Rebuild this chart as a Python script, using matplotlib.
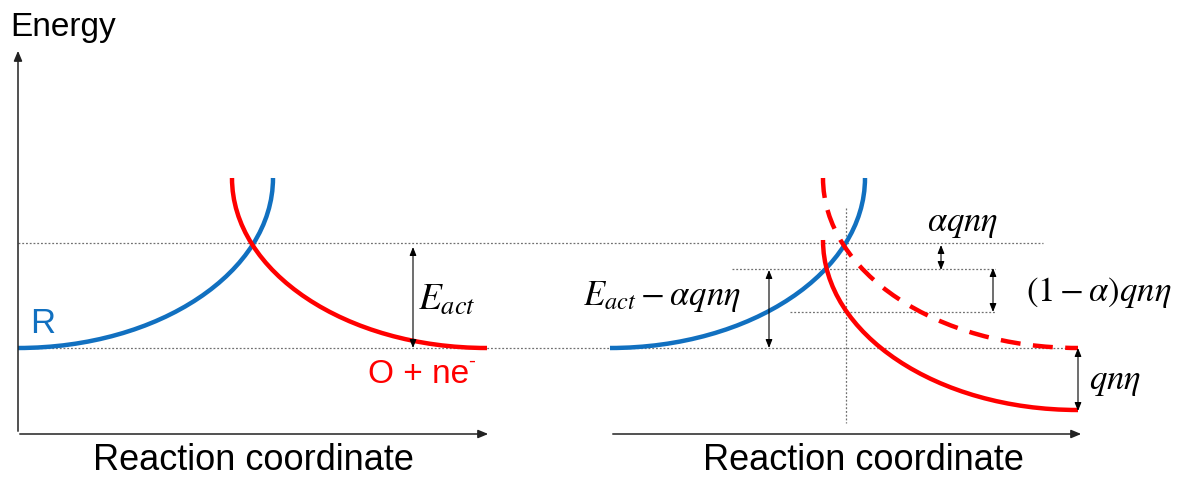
import matplotlib
matplotlib.use("Agg")
from matplotlib import pyplot as plt
from matplotlib.path import Path
from matplotlib.patches import PathPatch

plt.rcParams['font.family'] = ['Liberation Sans', 'DejaVu Sans']
plt.rcParams['mathtext.fontset'] = 'stix'

BLUE = '#1170C0'
RED = '#FF0000'
GRID = '#707070'

# curve control points (cubic bezier, quarter-ellipse shape), pixel units
blue_left_x = [18, 159, 273, 273]
blue_left_y = [348, 348, 272, 178]
red_left_x = [232, 232, 346, 487]
red_left_y = [178, 272, 348, 348]
blue_right_x = [610, 751, 865, 865]
blue_right_y = [348, 348, 272, 178]
red_dash_x = [823, 823, 937, 1078]
red_dash_y = [178, 272, 348, 348]
red_shift_x = [823, 823, 937, 1078]
red_shift_y = [240, 334, 410, 410]

# dotted guide lines: (y, x start, x end)
hlines_y = [243, 348, 269, 312]
hlines_x0 = [18, 18, 732, 790]
hlines_x1 = [1043, 1078, 995, 995]
vline_x = 846
vline_y = (208, 423)

# double arrows: (x, y top, y bottom)
arr_x = [413, 769, 941, 993, 1078]
arr_y0 = [247, 270, 245, 268, 348]
arr_y1 = [348, 348, 270, 312, 411]

fig = plt.figure(figsize=(11.82, 4.82), dpi=100)
ax = fig.add_axes([0, 0, 1, 1])
ax.set_xlim(0, 1182)
ax.set_ylim(482, 0)
ax.axis('off')


def bez(xs, ys, color, ls='-'):
    p = Path(list(zip(xs, ys)), [Path.MOVETO, Path.CURVE4, Path.CURVE4, Path.CURVE4])
    ax.add_patch(PathPatch(p, fill=False, edgecolor=color, lw=3.2, ls=ls,
                           capstyle='butt', zorder=3))


for y, x0, x1 in zip(hlines_y, hlines_x0, hlines_x1):
    ax.plot([x0, x1], [y, y], ls=(0, (1.5, 1.5)), color=GRID, lw=0.9, zorder=1)
ax.plot([vline_x, vline_x], vline_y, ls=(0, (1.5, 1.5)), color=GRID, lw=0.9, zorder=1)

bez(blue_left_x, blue_left_y, BLUE)
bez(red_left_x, red_left_y, RED)
bez(blue_right_x, blue_right_y, BLUE)
bez(red_dash_x, red_dash_y, RED, ls=(0, (4.5, 2.8)))
bez(red_shift_x, red_shift_y, RED)

# axes arrows
ax_kw = dict(arrowstyle='-|>,head_length=0.6,head_width=0.25', color='#222222', lw=1.1)
ax.annotate('', xy=(18, 48), xytext=(18, 434), arrowprops=ax_kw)
ax.annotate('', xy=(491, 434), xytext=(17, 434), arrowprops=ax_kw)
ax.annotate('', xy=(1084, 434), xytext=(610, 434), arrowprops=ax_kw)

ar_kw = dict(arrowstyle='<|-|>,head_length=0.5,head_width=0.2', color='black', lw=0.8,
             shrinkA=0, shrinkB=0)
for x, y0, y1 in zip(arr_x, arr_y0, arr_y1):
    ax.annotate('', xy=(x, y0), xytext=(x, y1), arrowprops=ar_kw)

ax.text(10, 36, 'Energy', fontsize=24, va='baseline', ha='left')
ax.text(253, 460, 'Reaction coordinate', fontsize=26, ha='center', va='center')
ax.text(863, 460, 'Reaction coordinate', fontsize=26, ha='center', va='center')
ax.text(30, 333, 'R', fontsize=25, color=BLUE, va='baseline')
ax.text(368, 383, 'O + ne', fontsize=24, color=RED, va='baseline')
ax.text(468, 367, '-', fontsize=15, color=RED, va='baseline')

ax.text(447, 300, '$E_{act}$', fontsize=27, ha='center', va='center')
ax.text(662, 296, '$E_{act} - \\alpha qn\\eta$', fontsize=25, ha='center', va='center')
ax.text(963, 224, '$\\alpha qn\\eta$', fontsize=25, ha='center', va='center')
ax.text(1099, 292, '$(1 - \\alpha)qn\\eta$', fontsize=25, ha='center', va='center')
ax.text(1115, 382, '$qn\\eta$', fontsize=25, ha='center', va='center')

fig.savefig('out.png', dpi=100)
